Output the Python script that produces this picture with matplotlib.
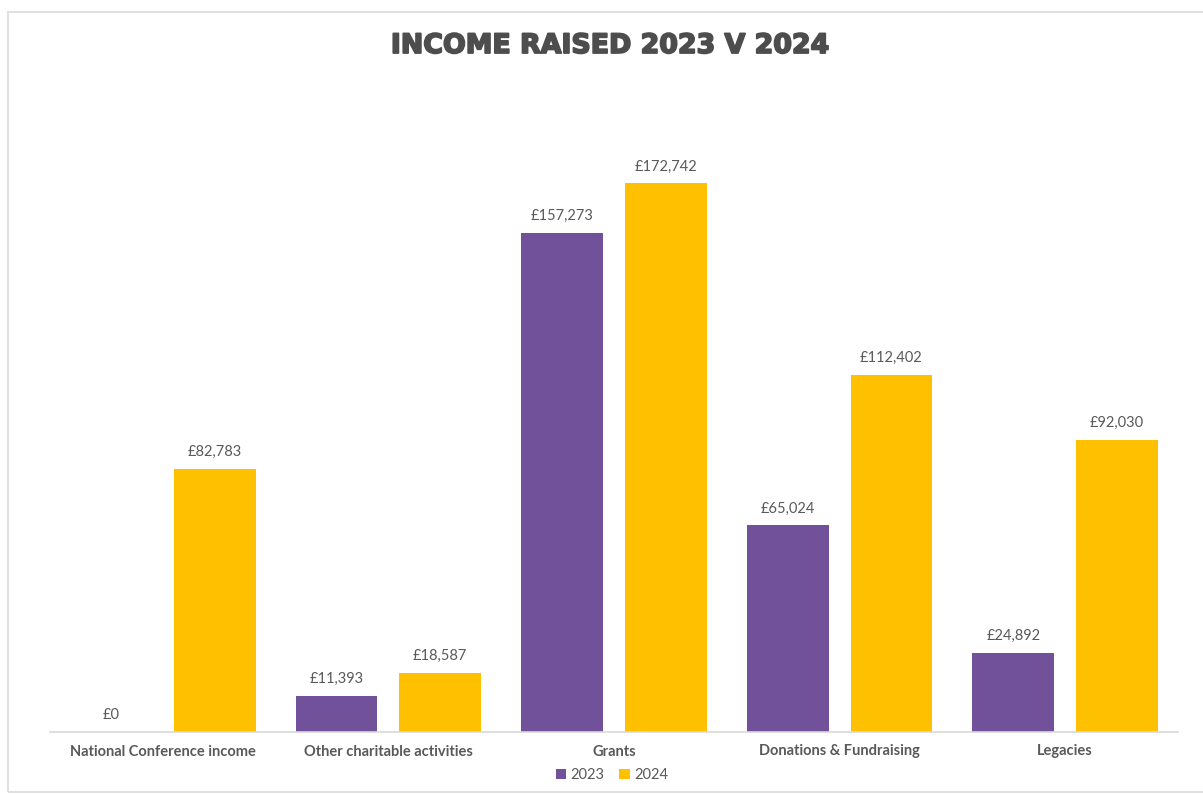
import matplotlib
matplotlib.use("Agg")
import matplotlib.pyplot as plt
import matplotlib.patheffects as pe
import numpy as np
from matplotlib.patches import Rectangle

categories = ["National Conference income", "Other charitable activities", "Grants",
              "Donations & Fundraising", "Legacies"]
series_names = ["2023", "2024"]
income_2023 = [0, 11393, 157273, 65024, 24892]
income_2024 = [82783, 18587, 172742, 112402, 92030]

purple = "#71519A"
gold = "#FFC000"
text_grey = "#595959"

fig = plt.figure(figsize=(12.03, 7.94), dpi=100)
fig.patch.set_facecolor("white")

# thin frame around the chart area
fig.add_artist(Rectangle((8 / 1203, 0.002), 1 - 8 / 1203 + 0.01, 1 - 12 / 794 - 0.002,
                         transform=fig.transFigure, fill=False, edgecolor="#DADADA",
                         linewidth=1.2))

ax = fig.add_axes([50 / 1203, 62 / 794, 1128 / 1203, 632 / 794])
x = np.arange(len(categories))
width = 0.363
off = 0.23

b1 = ax.bar(x - off, income_2023, width, color=purple, label=series_names[0])
b2 = ax.bar(x + off, income_2024, width, color=gold, label=series_names[1])

for bars, vals in ((b1, income_2023), (b2, income_2024)):
    for bar, v in zip(bars, vals):
        ax.annotate(f"£{v:,}", (bar.get_x() + bar.get_width() / 2, v),
                    xytext=(0, 7), textcoords="offset points", ha="center", va="bottom",
                    fontsize=10.5, color=text_grey, family="Lato")

ax.set_xlim(-0.5, len(categories) - 0.5)
ax.set_ylim(0, 199000)
ax.set_yticks([])
ax.set_xticks(x)
ax.set_xticklabels(categories, fontsize=10.5, color=text_grey, family="Lato", fontweight="bold")
ax.tick_params(axis="x", length=0, pad=9)
for s in ("top", "right", "left"):
    ax.spines[s].set_visible(False)
ax.spines["bottom"].set_color("#D9D9D9")
ax.spines["bottom"].set_linewidth(1.2)

title_color = "#4D4D4D"
fig.text(610 / 1203, 1 - 46 / 794, "INCOME RAISED 2023 V 2024", ha="center", va="center",
         fontsize=19.3, fontweight="heavy", family="DejaVu Sans", color=title_color,
         path_effects=[pe.withStroke(linewidth=1.3, foreground=title_color)])

leg = fig.legend(loc="center", bbox_to_anchor=(612 / 1203, 1 - 775 / 794), ncol=2,
                 frameon=False, handlelength=0.7, handleheight=0.7,
                 handletextpad=0.3, columnspacing=1.0, prop={"family": "Lato", "size": 10.5})
for t in leg.get_texts():
    t.set_color(text_grey)

fig.savefig("out.png", dpi=100, facecolor="white")
